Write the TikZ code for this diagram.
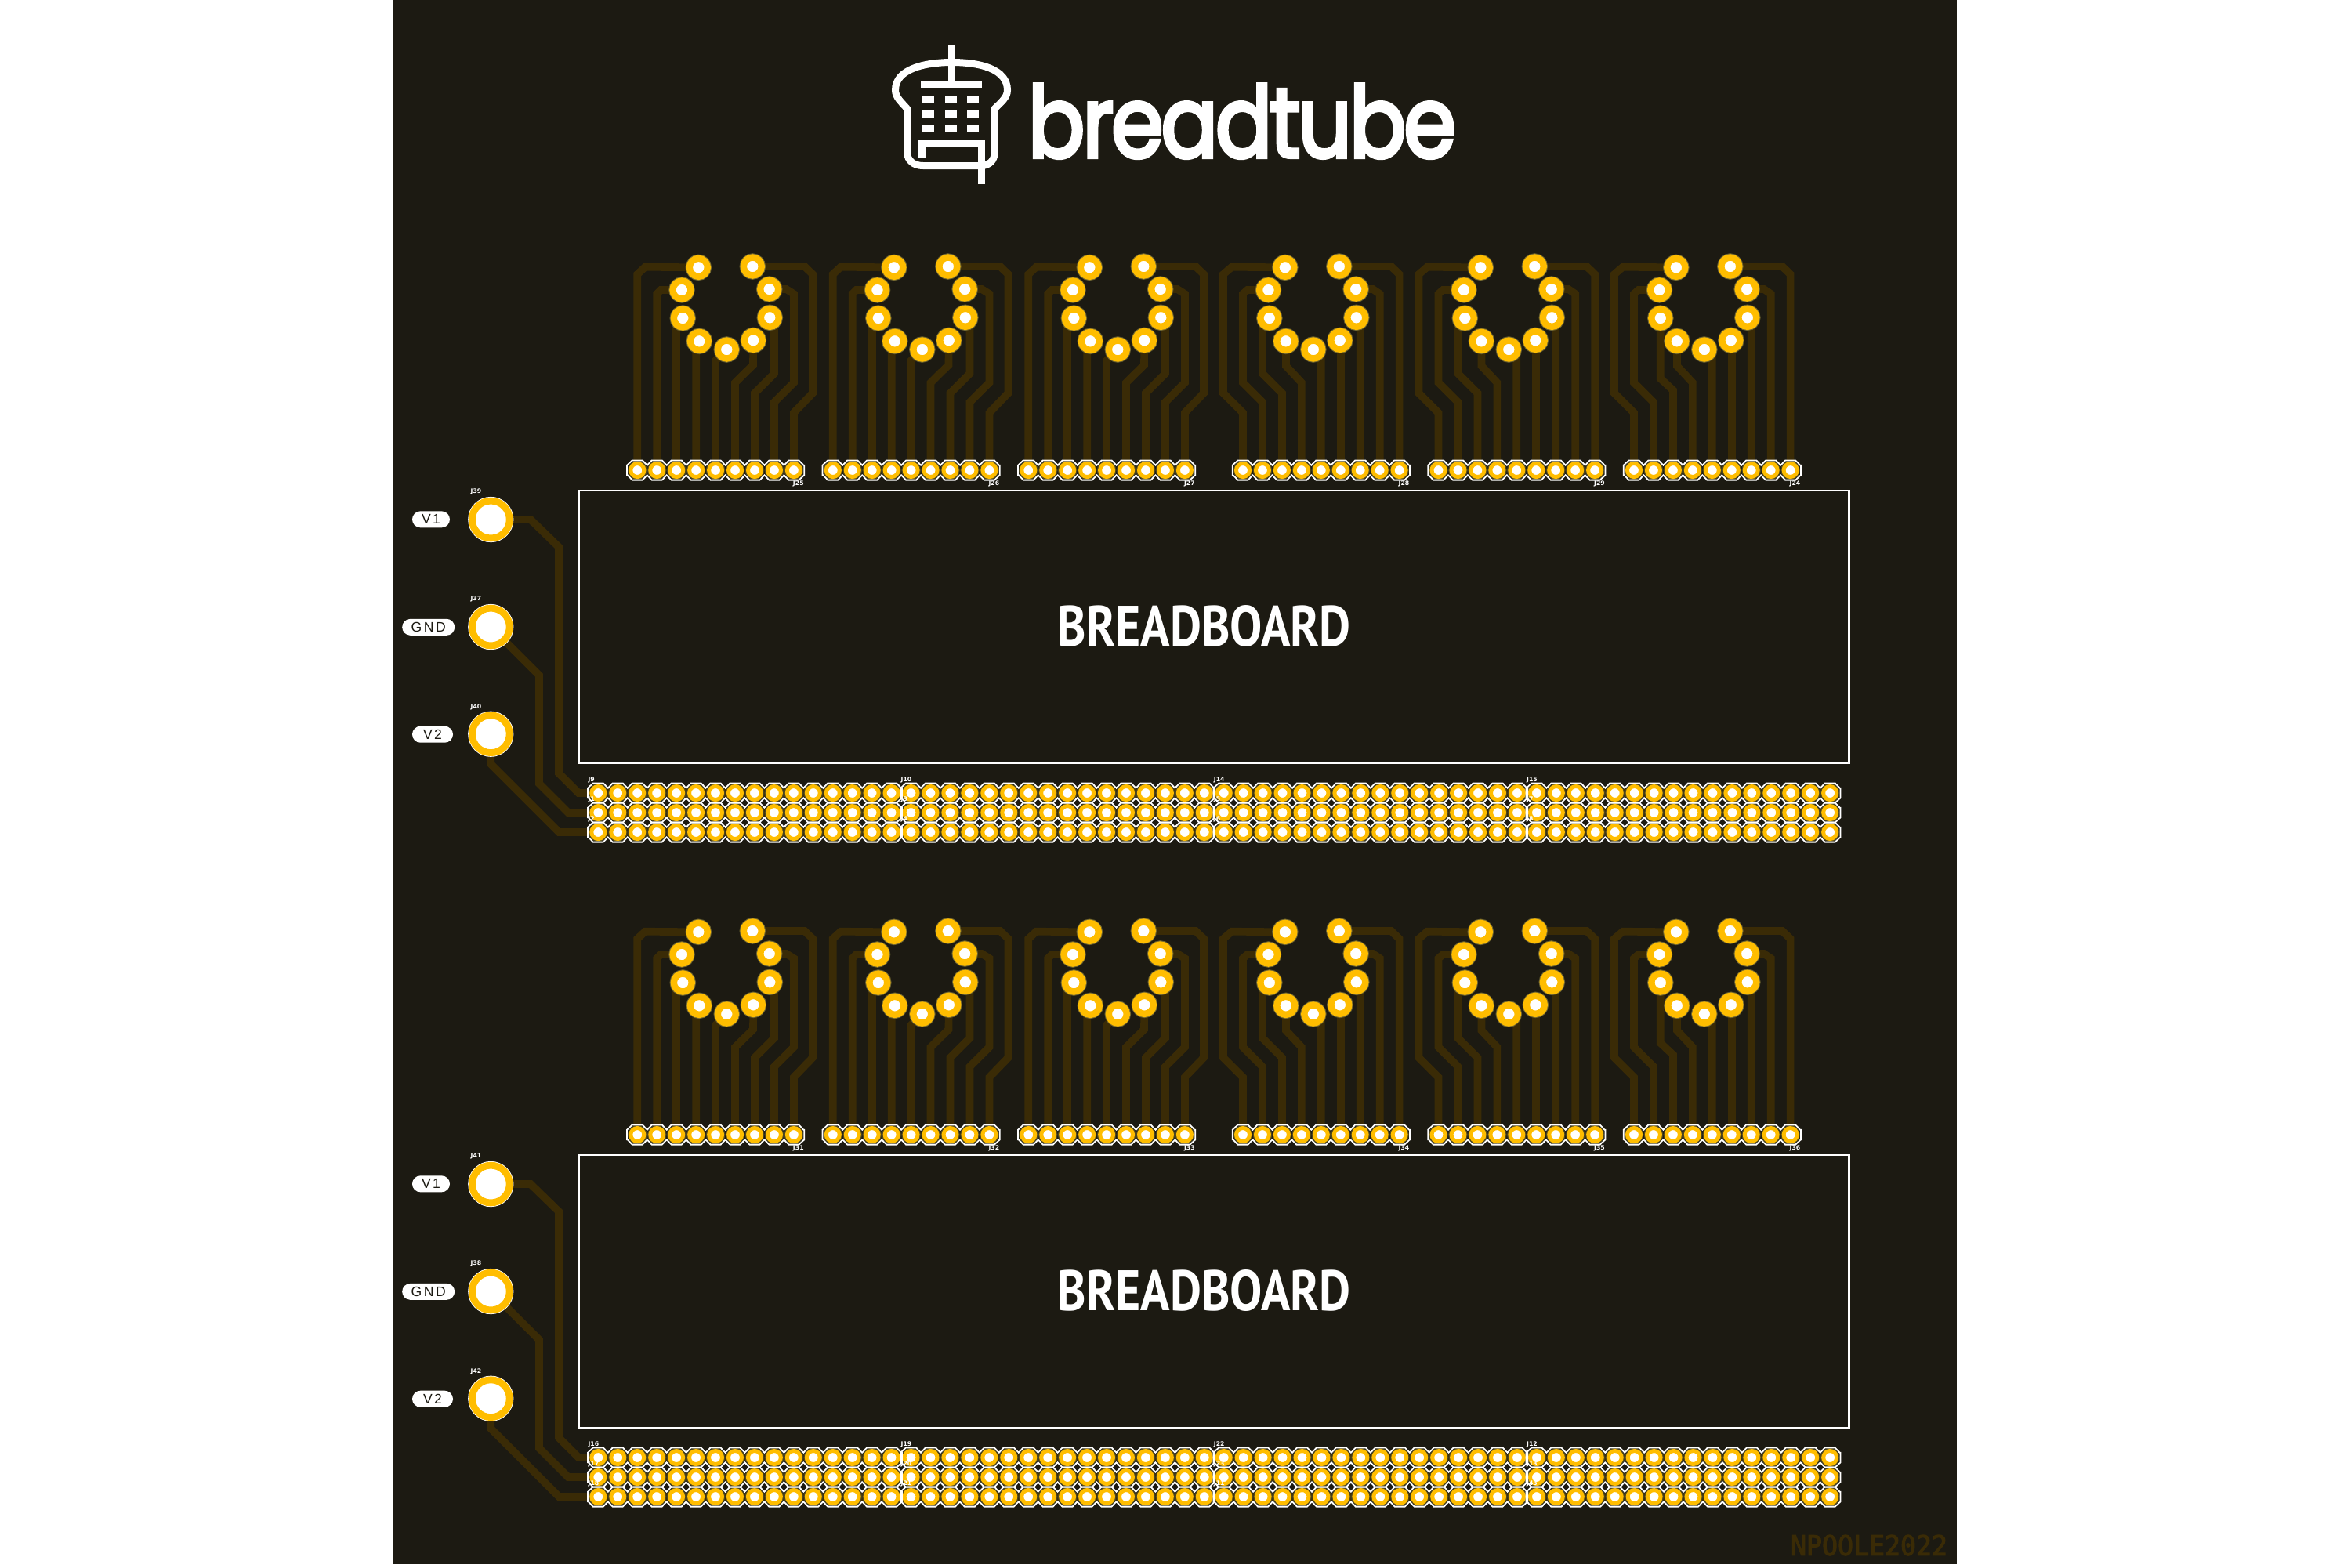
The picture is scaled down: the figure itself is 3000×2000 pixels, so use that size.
\documentclass[tikz,border=0pt]{standalone}
\usepackage{fontspec}
\usepackage{graphicx}
\usetikzlibrary{shapes.misc}
\newfontfamily\boardfont{PT Sans}
\newfontfamily\logofont[FakeBold=4,LetterSpace=-3]{Poppins}
\newfontfamily\pillfont[LetterSpace=14]{Liberation Sans}
\newfontfamily\silkfont{DejaVu Sans}
\newfontfamily\markfont[FakeBold=3]{DejaVu Sans Mono}
\definecolor{boardblack}{HTML}{1C1A12}
\definecolor{trackbrown}{HTML}{3A2B06}
\definecolor{padyellow}{HTML}{FFBD00}
\definecolor{padedge}{HTML}{6E6430}
\definecolor{headeredge}{HTML}{4A4420}

\tikzset{
    % tracks and silkscreen
    track/.style={trackbrown, line width=0.97mm},
    silk/.style={white, line width=0.18mm},
    logoline/.style={white, line width=0.9mm},
    % pads
    tubepad/.style={circle, fill=white, draw=padyellow, line width=0.84mm, minimum size=2.3mm, inner sep=0pt, outer sep=0pt,
        preaction={draw=padedge, line width=1.04mm}},
    headpad/.style={circle, fill=white, draw=padyellow, line width=0.5mm, minimum size=1.7mm, inner sep=0pt, outer sep=0pt,
        preaction={draw=headeredge, line width=0.76mm}},
    jackpad/.style={circle, fill=white, draw=padyellow, line width=0.88mm, minimum size=4.78mm, inner sep=0pt, outer sep=0pt,
        preaction={draw=white, line width=1.04mm}},
    % labels
    pill/.style={rounded rectangle, fill=white, text=boardblack, inner sep=0pt, minimum height=2.1mm,
        font=\pillfont\fontsize{5pt}{6pt}\selectfont},
    tinylabel/.style={white, inner sep=0pt, font=\silkfont\bfseries\fontsize{2.2pt}{2.6pt}\selectfont}
}

% chain of octagons round a row of pads
\newcommand{\silkrow}[3]{
    \begin{scope}[shift={(#1,#2)}]
        \pgfmathsetmacro{\lastx}{(#3-1)*24.95}
        \draw[silk] (-13.3,-6.3)
            \foreach \i [evaluate=\i as \cx using (\i-1)*24.95] in {1,...,#3} {
                -- (\cx-6.5,-12.6) -- (\cx+6.5,-12.6) -- (\cx+12.5,-6.3)}
            -- (\lastx+13.3,-6.3) -- (\lastx+13.3,6.3)
            \foreach \i [evaluate=\i as \cx using (\i-1)*24.95] in {#3,...,1} {
                -- (\cx+6.5,12.6) -- (\cx-6.5,12.6) -- (\cx-12.5,6.3)}
            -- (-13.3,6.3) -- cycle;
    \end{scope}
}

% nine tube pads and nine header pads: name, tube centre, first header pin
\newcommand{\tubesetup}[3]{
    \begin{scope}[shift={(#2,0)}]
        \coordinate (#1p1) at (-35,341.3);
        \coordinate (#1p2) at (-56.3,370);
        \coordinate (#1p3) at (-55,406);
        \coordinate (#1p4) at (-34,435.3);
        \coordinate (#1p5) at (1,446);
        \coordinate (#1p6) at (35,434.3);
        \coordinate (#1p7) at (56,405.3);
        \coordinate (#1p8) at (55.4,369);
        \coordinate (#1p9) at (34,340);
        \foreach \i in {1,...,9} \coordinate (#1h\i) at (#3+\i*24.95-24.95,600);
    \end{scope}
}

% tracks of the left-hand tubes
\newcommand{\leadsleft}[2]{
    \begin{scope}[shift={(#2,0)}]
        \draw[track] (#1h1) -- (-113,350) -- (-103,340.7) -- (#1p1);
        \draw[track] (#1h2) -- (-88.05,375) -- (-83,370) -- (#1p2);
        \draw[track] (#1h3) -- (-63.1,406) -- (#1p3);
        \draw[track] (#1h4) -- (-38.15,435.3) -- (#1p4);
        \draw[track] (#1h5) -- (-13.2,460) -- (#1p5);
        \draw[track] (#1h6) -- (11.75,488.3) -- (34.7,465.7) -- (#1p6);
        \draw[track] (#1h7) -- (36.7,501.7) -- (61.65,476.7) -- (61.65,405.3) -- (#1p7);
        \draw[track] (#1h8) -- (61.65,513.3) -- (86.6,488.3) -- (86.6,375) -- (77,369) -- (#1p8);
        \draw[track] (#1h9) -- (86.6,526.7) -- (110.7,501.7) -- (110.7,350) -- (100.4,340) -- (#1p9);
    \end{scope}
}

% tracks of the right-hand tubes, third track as an argument
\newcommand{\leadsright}[3]{
    \begin{scope}[shift={(#2,0)}]
        \draw[track] (#1h1) -- (-88.8,526.7) -- (-113.8,501.7) -- (-113.8,350) -- (-103,340.7) -- (#1p1);
        \draw[track] (#1h2) -- (-63.85,513.3) -- (-88.8,488.3) -- (-88.8,375) -- (-83,370) -- (#1p2);
        \draw[track] (#1h3) -- #3 -- (#1p3);
        \draw[track] (#1h4) -- (-13.95,488.3) -- (-33.8,467) -- (#1p4);
        \draw[track] (#1h5) -- (11,446) -- (#1p5);
        \draw[track] (#1h6) -- (35.95,434.3) -- (#1p6);
        \draw[track] (#1h7) -- (60.9,405.3) -- (#1p7);
        \draw[track] (#1h8) -- (85.85,375) -- (77,369) -- (#1p8);
        \draw[track] (#1h9) -- (110.8,350) -- (100.4,340) -- (#1p9);
    \end{scope}
}

% pads go last, over the track ends: name, first header pin (absolute), label
\newcommand{\tubefinish}[3]{
    \foreach \i in {1,...,9} {
        \node[tubepad] (#1tp\i) at (#1p\i) {};
        \node[headpad] (#1hp\i) at (#1h\i) {};
    }
    \silkrow{#2}{600}{9}
    \node[tinylabel] (#1lab) at (#2+205.5,617) {#3};
}

\begin{document}
\begin{tikzpicture}[x=0.1mm, y=-0.1mm]
    \useasboundingbox (0,0) rectangle (3000,2000);
    \fill[white] (0,0) rectangle (3000,2000);
    \fill[boardblack] (501,0) rectangle (2497,1996);

    % ================= logo =================
    \draw[logoline] (1142.5,115) .. controls (1142.5,88) and (1180,79.5) .. (1215,79.5)
        .. controls (1250,79.5) and (1285.5,88) .. (1285.5,115)
        .. controls (1285.5,124) and (1278,130) .. (1269,139) -- (1269,195)
        .. controls (1269,205) and (1262,211.5) .. (1252,211.5) -- (1178,211.5)
        .. controls (1166,211.5) and (1157.8,205) .. (1157.8,195) -- (1157.8,139)
        .. controls (1150,130) and (1142.5,124) .. (1142.5,115) -- cycle;
    \draw[logoline] (1214.8,58) -- (1214.8,103);
    \fill[white] (1175,102.7) rectangle (1253,112);
    \foreach \gx in {1184.7,1213.3,1241.8} \foreach \gy in {126,145.3,164}
        \fill[white] (\gx-7.5,\gy-4.5) rectangle (\gx+7.5,\gy+4.5);
    \draw[logoline] (1176.2,200.7) -- (1176.2,183.7) -- (1252.3,183.7) -- (1252.3,235);
    \node[white, inner sep=0pt] (logotext) at (1584.7,154.6) {\resizebox{54.6mm}{9.3mm}{\logofont breadtube}};

    % ================= two identical blocks =================
    \foreach \blk/\dy/\tla/\tlb/\tlc/\tld/\tle/\tlf/\ja/\jb/\jc in {
        u/0/J25/J26/J27/J28/J29/J24/J39/J37/J40,
        l/848/J31/J32/J33/J34/J35/J36/J41/J38/J42} {
    \begin{scope}[shift={(0,\dy)}]
        % ---- tubes ----
        \tubesetup{\blk a}{926.3}{-113}   \leadsleft{\blk a}{926.3}
        \tubesetup{\blk b}{1175.8}{-113}  \leadsleft{\blk b}{1175.8}
        \tubesetup{\blk c}{1425.3}{-113}  \leadsleft{\blk c}{1425.3}
        \tubesetup{\blk d}{1674.8}{-88.8} \leadsright{\blk d}{1674.8}{(-38.9,501.7) -- (-63.85,476.7) -- (-63.85,406)}
        \tubesetup{\blk e}{1924.3}{-88.8} \leadsright{\blk e}{1924.3}{(-38.9,501.7) -- (-63.85,476.7) -- (-63.85,406)}
        \tubesetup{\blk f}{2173.8}{-88.8} \leadsright{\blk f}{2173.8}{(-38.9,498) -- (-55,483)}
        \tubefinish{\blk a}{813.3}{\tla}
        \tubefinish{\blk b}{1062.8}{\tlb}
        \tubefinish{\blk c}{1312.3}{\tlc}
        \tubefinish{\blk d}{1586}{\tld}
        \tubefinish{\blk e}{1835.5}{\tle}
        \tubefinish{\blk f}{2085}{\tlf}
        % ---- breadboard outline ----
        \draw[white, line width=0.27mm] (738.5,626) rectangle (2359.5,974);
        \node[white, inner sep=0pt] (\blk board) at (1536.7,799) {\resizebox{37.4mm}{5.2mm}{\boardfont\bfseries BREADBOARD}};
        % ---- power jacks ----
        \coordinate (\blk j1) at (626.3,663);
        \coordinate (\blk j2) at (626.3,800);
        \coordinate (\blk j3) at (626.3,936.7);
        \coordinate (\blk r1) at (763.3,1012);
        \coordinate (\blk r2) at (763.3,1037);
        \coordinate (\blk r3) at (763.3,1062);
        \coordinate (\blk e1) at (2335.2,1012);
        \coordinate (\blk e2) at (2335.2,1037);
        \coordinate (\blk e3) at (2335.2,1062);
        \draw[track] (\blk j1) -- (677,663) -- (713,698) -- (713,986.7) -- (738.3,1012) -- (\blk r1);
        \draw[track] (\blk j2) -- (688,861.7) -- (688,1000) -- (725,1037) -- (\blk r2);
        \draw[track] (\blk j3) -- (626.3,975) -- (713.3,1062) -- (\blk r3);
        \foreach \rw in {1,2,3} \draw[track] (\blk r\rw) -- (\blk e\rw);
        \node[jackpad] (\blk jp1) at (\blk j1) {};
        \node[jackpad] (\blk jp2) at (\blk j2) {};
        \node[jackpad] (\blk jp3) at (\blk j3) {};
        \node[tinylabel] (\blk jl1) at (607.5,627) {\ja};
        \node[tinylabel] (\blk jl2) at (607.5,764.5) {\jb};
        \node[tinylabel] (\blk jl3) at (607.5,902) {\jc};
        \node[pill, minimum width=4.8mm] (\blk v1) at (550,662.8) {V1};
        \node[pill, minimum width=6.7mm] (\blk gnd) at (546.7,800.3) {GND};
        \node[pill, minimum width=5.2mm] (\blk v2) at (552,937.2) {V2};
        % ---- breadboard headers, three rows of sixteen, four times ----
        \foreach \rw in {1,2,3}
            \foreach \cl in {1,...,64}
                \node[headpad] (\blk r\rw c\cl) at ({763.3+(\cl-1)*24.95},{987+25*\rw}) {};
        \foreach \gx in {763.3,1162.5,1561.7,1960.9} {
            \foreach \ry in {1012,1037,1062} {\silkrow{\gx}{\ry}{16}}
        }
    \end{scope}
    }

    % ================= row labels =================
    \foreach \lx/\ly/\txt in {
        749.8/995/J9, 749.8/1020.5/J1, 749.8/1045.5/J2,
        1149/995/J10, 1149/1020.5/J3, 1149/1045.5/J4,
        1548.2/995/J14, 1548.2/1020.5/J5, 1548.2/1045.5/J6,
        1947.4/995/J15, 1947.4/1020.5/J7, 1947.4/1045.5/J8,
        749.8/1843/J16, 749.8/1868.5/J17, 749.8/1893.5/J18,
        1149/1843/J19, 1149/1868.5/J20, 1149/1893.5/J21,
        1548.2/1843/J22, 1548.2/1868.5/J23, 1548.2/1893.5/J11,
        1947.4/1843/J12, 1947.4/1868.5/J13, 1947.4/1893.5/J43}
        \node[tinylabel, anchor=west] at (\lx,\ly) {\txt};

    % ================= board mark =================
    \node[text=trackbrown, inner sep=0pt] (boardmark) at (2385,1972) {\resizebox{20mm}{2.6mm}{\markfont NPOOLE2022}};
\end{tikzpicture}
\end{document}
